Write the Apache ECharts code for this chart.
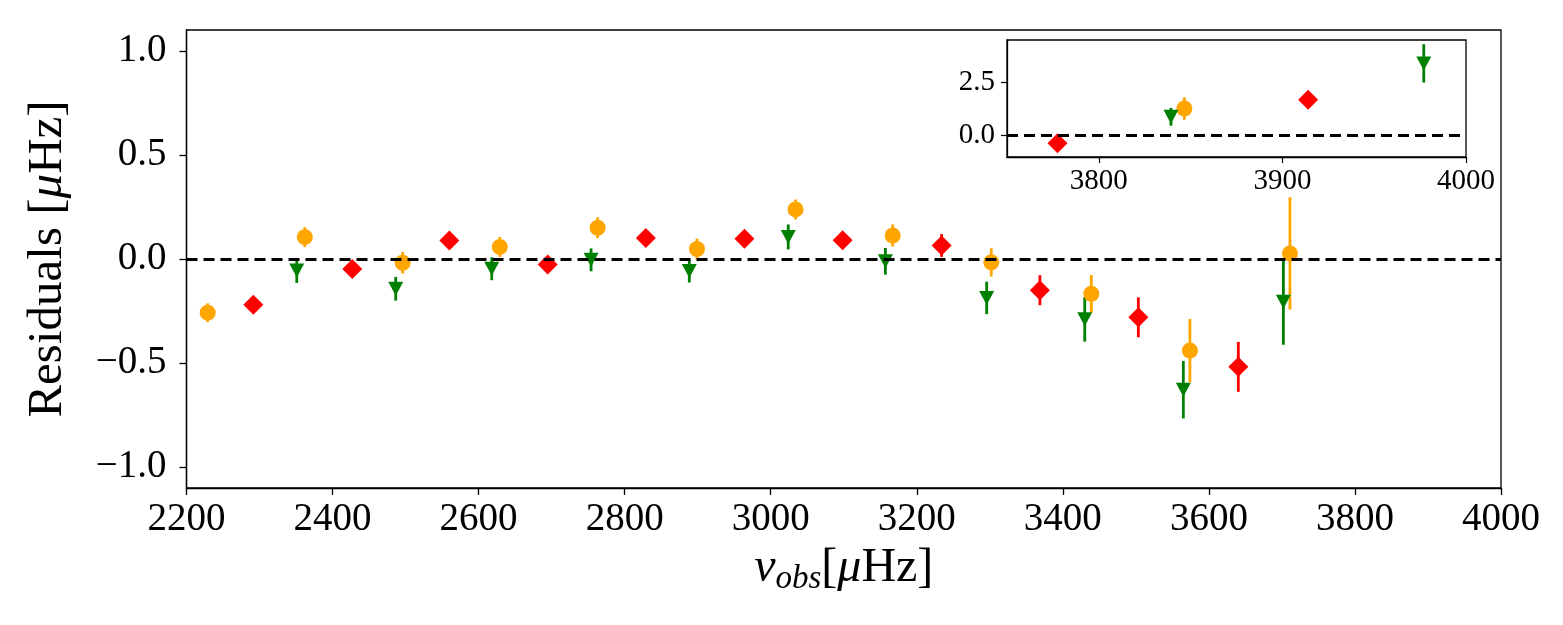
<!DOCTYPE html>
<html>
<head>
<meta charset="utf-8">
<script src="https://cdn.jsdelivr.net/npm/echarts@6/dist/echarts.min.js"></script>
<style>
  html, body { margin: 0; padding: 0; background: #fff; }
  #chart { width: 1563px; height: 625px; }
</style>
</head>
<body>
<div id="chart"></div>
<script>
// values: frequency, residual, error
const orangeX = [2229, 2362, 2496, 2629, 2763, 2899, 3034, 3167, 3302, 3439, 3574, 3711, 3846.6]
const orangeY = [-0.258, 0.105, -0.018, 0.058, 0.15, 0.048, 0.238, 0.113, -0.016, -0.167, -0.44, 0.027, 1.28]
const orangeErr = [0.045, 0.048, 0.052, 0.048, 0.05, 0.05, 0.048, 0.053, 0.068, 0.09, 0.152, 0.27, 0.53]

const redX = [2291.5, 2427, 2560, 2694.6, 2829, 2964, 3098.5, 3234, 3368.6, 3503.4, 3640.3, 3777.5, 3914]
const redY = [-0.22, -0.048, 0.089, -0.027, 0.101, 0.097, 0.09, 0.065, -0.15, -0.28, -0.518, -0.35, 1.69]
const redErr = [0.03, 0.03, 0.03, 0.03, 0.03, 0.03, 0.035, 0.055, 0.072, 0.096, 0.12, 0.2, 0.25]

const greenX = [2351, 2486.5, 2618, 2754, 2888.5, 3024, 3157, 3295.7, 3430, 3565, 3702, 3839.3, 3977]
const greenY = [-0.055, -0.143, -0.047, -0.004, -0.058, 0.106, -0.011, -0.187, -0.29, -0.628, -0.205, 0.89, 3.4]
const greenErr = [0.06, 0.057, 0.055, 0.055, 0.055, 0.06, 0.064, 0.078, 0.107, 0.138, 0.207, 0.42, 0.9]

// points from here on are only in the inset
const insetFrom = 3750

const mainYTicks = [-1, -0.5, 0, 0.5, 1]
const insetXTicks = [3800, 3900, 4000]
const insetYTicks = [0, 2.5]

const ORANGE = '#FFA500'
const RED = '#FF0000'
const GREEN = '#008000'
const FONT = 'Liberation Serif'

function rows(xs, ys, es, inset) {
  const out = []
  xs.forEach((x, i) => {
    if ((x >= insetFrom) === inset) out.push([x, ys[i], es[i]])
  })
  return out
}

function errorBars(data, color, idx) {
  return {
    type: 'custom',
    xAxisIndex: idx,
    yAxisIndex: idx,
    clip: true,
    z: 2,
    data: data,
    renderItem: (params, api) => {
      const x = api.value(0)
      const y = api.value(1)
      const e = api.value(2)
      const p1 = api.coord([x, y - e])
      const p2 = api.coord([x, y + e])
      return {
        type: 'line',
        shape: { x1: p1[0], y1: p1[1], x2: p2[0], y2: p2[1] },
        style: { stroke: color, lineWidth: 2.8 },
      }
    },
  }
}

function markers(data, color, symbol, size, rotate, idx) {
  return {
    type: 'scatter',
    xAxisIndex: idx,
    yAxisIndex: idx,
    z: 3,
    symbol: symbol,
    symbolSize: size,
    symbolRotate: rotate,
    itemStyle: { color: color, opacity: 1 },
    data: data.map((d) => [d[0], d[1]]),
  }
}

function zeroLine(idx, width) {
  return {
    type: 'line',
    xAxisIndex: idx,
    yAxisIndex: idx,
    data: [],
    z: 1,
    markLine: {
      silent: true,
      symbol: ['none', 'none'],
      label: { show: false },
      lineStyle: { color: '#000', type: [11, 6], width: width },
      data: [{ yAxis: 0 }],
    },
  }
}

const minus = (s) => s.replace('-', '\u2212')

const axisBlack = { onZero: false, lineStyle: { color: '#000', width: 1.3 } }

const chart = echarts.init(document.getElementById('chart'))

const series = []
;[0, 1].forEach((idx) => {
  const inset = idx === 1
  const o = rows(orangeX, orangeY, orangeErr, inset)
  const r = rows(redX, redY, redErr, inset)
  const g = rows(greenX, greenY, greenErr, inset)
  series.push(zeroLine(idx, inset ? 2.8 : 3))
  series.push(errorBars(o, ORANGE, idx))
  series.push(markers(o, ORANGE, 'circle', 16, 0, idx))
  series.push(errorBars(r, RED, idx))
  series.push(markers(r, RED, 'diamond', [20, 20], 0, idx))
  series.push(errorBars(g, GREEN, idx))
  series.push(markers(g, GREEN, 'triangle', [15, 14], 180, idx))
})

const option = {
  backgroundColor: '#fff',
  animation: false,
  grid: [
    {
      left: 186.5, right: 62, top: 30, bottom: 137,
      show: true, borderColor: '#000', borderWidth: 1.3,
    },
    {
      left: 1007, right: 97, top: 40, bottom: 468,
      show: true, borderColor: '#000', borderWidth: 1.3, backgroundColor: '#fff',
    },
  ],
  xAxis: [
    {
      type: 'value', gridIndex: 0, min: 2200, max: 4000, interval: 200,
      axisLine: axisBlack,
      axisTick: { show: true, inside: false, length: 7, lineStyle: { color: '#000', width: 1.3 } },
      axisLabel: { color: '#000', fontFamily: FONT, fontSize: 39, margin: 12, formatter: (v) => String(v) },
      splitLine: { show: false },
      name: '{n|ν}{s|obs}{t|[}{n|μ}{t|Hz]}',
      nameLocation: 'middle',
      nameGap: 52,
      nameTextStyle: {
        rich: {
          n: { fontFamily: FONT, fontStyle: 'italic', fontSize: 48, color: '#000', lineHeight: 56 },
          s: { fontFamily: FONT, fontStyle: 'italic', fontSize: 33, color: '#000', verticalAlign: 'bottom', lineHeight: 40 },
          t: { fontFamily: FONT, fontSize: 48, color: '#000', lineHeight: 56 },
        },
      },
    },
    {
      type: 'value', gridIndex: 1, min: insetFrom, max: 4000,
      axisLine: axisBlack,
      axisTick: { show: true, inside: false, length: 6, customValues: insetXTicks, lineStyle: { color: '#000', width: 1.2 } },
      axisLabel: { color: '#000', fontFamily: FONT, fontSize: 29, margin: 10, customValues: insetXTicks, formatter: (v) => String(v) },
      splitLine: { show: false },
    },
  ],
  yAxis: [
    {
      type: 'value', gridIndex: 0, min: -1.1, max: 1.1,
      axisLine: { show: true, ...axisBlack },
      axisTick: { show: true, inside: false, length: 7, customValues: mainYTicks, lineStyle: { color: '#000', width: 1.3 } },
      axisLabel: {
        color: '#000', fontFamily: FONT, fontSize: 39, margin: 20,
        customValues: mainYTicks,
        formatter: (v) => minus(v.toFixed(1)),
      },
      splitLine: { show: false },
      name: '{t|Residuals [}{n|μ}{t|Hz]}',
      nameLocation: 'middle',
      nameGap: 110,
      nameTextStyle: {
        rich: {
          n: { fontFamily: FONT, fontStyle: 'italic', fontSize: 49, color: '#000', lineHeight: 56 },
          t: { fontFamily: FONT, fontSize: 49, color: '#000', lineHeight: 56 },
        },
      },
    },
    {
      type: 'value', gridIndex: 1, min: -1, max: 4.5,
      axisLine: { show: true, ...axisBlack },
      axisTick: { show: true, inside: false, length: 6, customValues: insetYTicks, lineStyle: { color: '#000', width: 1.2 } },
      axisLabel: {
        color: '#000', fontFamily: FONT, fontSize: 29, margin: 12,
        customValues: insetYTicks,
        formatter: (v) => minus(v.toFixed(1)),
      },
      splitLine: { show: false },
    },
  ],
  series: series,
}

chart.setOption(option)
</script>
</body>
</html>
